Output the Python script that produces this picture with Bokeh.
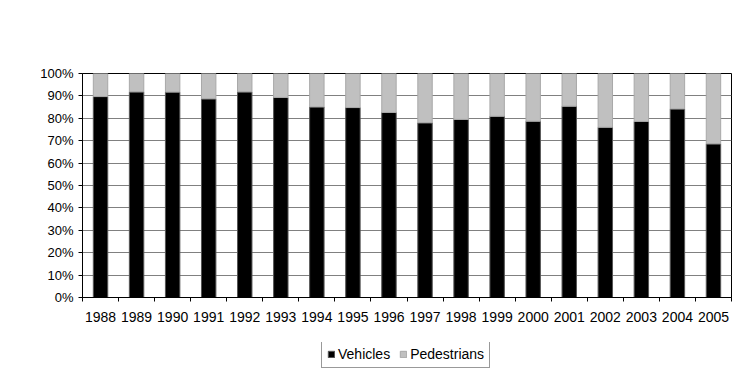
from bokeh.plotting import figure
from bokeh.layouts import column
from bokeh.models import (ColumnDataSource, FixedTicker, NumeralTickFormatter,
                          Range1d, Legend, LegendItem)
from bokeh.embed import file_html
from bokeh.resources import INLINE

years = ["1988", "1989", "1990", "1991", "1992", "1993", "1994", "1995", "1996",
         "1997", "1998", "1999", "2000", "2001", "2002", "2003", "2004", "2005"]
vehicles = [0.897, 0.918, 0.917, 0.887, 0.918, 0.893, 0.851, 0.848, 0.826,
            0.780, 0.795, 0.809, 0.787, 0.854, 0.760, 0.786, 0.842, 0.686]
pedestrians = [0.103, 0.082, 0.083, 0.113, 0.082, 0.107, 0.149, 0.152, 0.174,
               0.220, 0.205, 0.191, 0.213, 0.146, 0.240, 0.214, 0.158, 0.314]
y_ticks = [0.0, 0.1, 0.2, 0.3, 0.4, 0.5, 0.6, 0.7, 0.8, 0.9, 1.0]
series = ["Vehicles", "Pedestrians"]
colors = ["black", "#c0c0c0"]
edges = ["#555555", "#a8a8a8"]

xpos = [i + 0.5 for i in range(len(years))]
source = ColumnDataSource(dict(x=xpos, year=years, vehicles=vehicles, pedestrians=pedestrians))

FONT = "Liberation Sans"

p = figure(frame_width=649, frame_height=224, output_backend="svg", toolbar_location=None,
           x_range=Range1d(0, len(years)), y_range=Range1d(0, 1),
           min_border_left=82, min_border_top=73, min_border_right=19,
           min_border_bottom=45)

r = p.vbar_stack(["vehicles", "pedestrians"], x="x", width=0.4, source=source,
                 color=colors, line_color=edges, line_width=1)

p.outline_line_color = "black"
p.outline_line_width = 1
p.background_fill_color = "white"
p.border_fill_color = "white"

p.xgrid.visible = False
p.ygrid.grid_line_color = "#808080"
p.ygrid.grid_line_width = 1

# y axis
p.yaxis.ticker = FixedTicker(ticks=y_ticks)
p.yaxis.formatter = NumeralTickFormatter(format="0%")
p.yaxis.major_label_text_font = FONT
p.yaxis.major_label_text_font_size = "13px"
p.yaxis.major_label_text_color = "black"
p.yaxis.axis_line_color = "black"
p.yaxis.major_tick_in = 0
p.yaxis.major_tick_out = 4
p.yaxis.minor_tick_line_color = None
p.yaxis.major_label_standoff = 5

# x axis
p.xaxis.ticker = FixedTicker(ticks=xpos, minor_ticks=list(range(len(years) + 1)))
p.xaxis.major_label_overrides = {x: y for x, y in zip(xpos, years)}
p.xaxis.major_label_text_font = FONT
p.xaxis.major_label_text_font_size = "14px"
p.xaxis.major_label_text_color = "black"
p.xaxis.axis_line_color = "black"
p.xaxis.major_tick_in = 0
p.xaxis.major_tick_out = 0
p.xaxis.minor_tick_in = 0
p.xaxis.minor_tick_out = 4
p.xaxis.minor_tick_line_color = "black"
p.xaxis.major_label_standoff = 10

# legend strip
p2 = figure(width=750, height=40, output_backend="svg", toolbar_location=None,
            x_range=Range1d(0, len(years)), y_range=Range1d(0, 1),
            x_axis_type=None, y_axis_type=None, min_border=0)
p2.outline_line_color = None
p2.grid.visible = False
r2 = p2.vbar_stack(["vehicles", "pedestrians"], x="x", width=0.4, source=source,
                   color=colors, line_color=edges, line_width=1)
for rr in r2:
    rr.visible = False

legend = Legend(items=[LegendItem(label=series[0], renderers=[r2[0]]),
                       LegendItem(label=series[1], renderers=[r2[1]])],
                orientation="horizontal", location=(239, 14))
legend.label_text_font = FONT
legend.label_text_font_size = "14px"
legend.label_text_color = "black"
legend.glyph_width = 8
legend.glyph_height = 8
legend.label_standoff = 3
legend.spacing = 9
legend.padding = 5
legend.margin = 0
legend.label_height = 12
legend.border_line_color = "#333333"
legend.border_line_width = 1
legend.background_fill_alpha = 1
legend.inactive_fill_alpha = 0
p2.add_layout(legend, "center")

layout = column(p, p2, spacing=0)
open("out.html", "w").write(file_html(layout, INLINE))
